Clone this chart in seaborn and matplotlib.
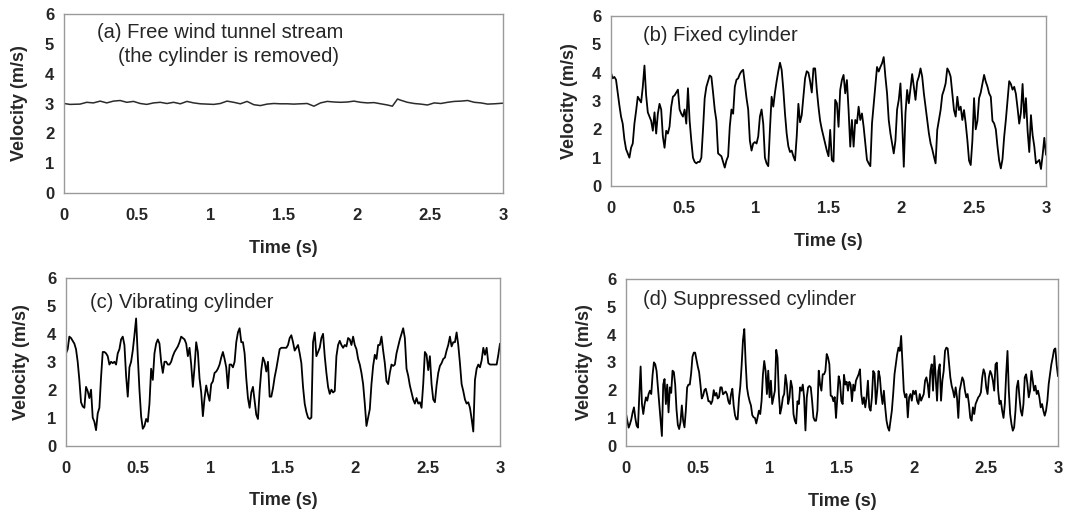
import numpy as np
import pandas as pd
import matplotlib
matplotlib.use("Agg")
import matplotlib.pyplot as plt
import seaborn as sns

# ------------------------------------------------------------------
# Velocity records (m/s)
# ------------------------------------------------------------------
TIME_A = [0.0, 0.041, 0.110, 0.155, 0.201, 0.247, 0.292, 0.338, 0.384, 0.429,
          0.475, 0.521, 0.566, 0.612, 0.658, 0.703, 0.749, 0.795, 0.840, 0.886,
          0.932, 0.977, 1.023, 1.068, 1.114, 1.160, 1.205, 1.251, 1.297, 1.342,
          1.388, 1.434, 1.479, 1.525, 1.571, 1.616, 1.662, 1.708, 1.753, 1.799,
          1.845, 1.890, 1.936, 1.982, 2.027, 2.073, 2.119, 2.164, 2.210, 2.244,
          2.279, 2.301, 2.347, 2.393, 2.438, 2.484, 2.530, 2.575, 2.621, 2.667,
          2.712, 2.758, 2.804, 2.849, 2.895, 2.941, 3.0]
VEL_A = [3.00, 2.97, 2.98, 3.04, 3.02, 3.08, 3.02, 3.08, 3.10, 3.04,
         3.07, 3.00, 2.97, 3.02, 3.04, 3.00, 3.04, 2.99, 3.07, 3.02,
         2.99, 2.98, 2.97, 3.00, 3.08, 3.04, 2.99, 3.07, 2.96, 2.93,
         2.98, 3.00, 2.99, 2.99, 2.98, 2.99, 3.00, 2.91, 3.02, 3.07,
         3.05, 3.04, 3.05, 3.08, 3.04, 3.02, 3.03, 2.99, 2.95, 2.91,
         3.15, 3.11, 3.04, 3.00, 2.98, 2.95, 3.02, 3.00, 3.04, 3.07,
         3.08, 3.10, 3.04, 3.02, 2.98, 2.99, 3.01]

# (b) fixed cylinder, evenly sampled over 0-3 s
VEL_B = [4.0, 3.8, 3.85, 3.75, 3.3, 2.85, 2.45, 2.2, 1.65, 1.3,
         1.15, 1.0, 1.35, 1.5, 2.2, 2.65, 3.15, 3.05, 2.95, 3.5,
         4.25, 3.2, 2.6, 2.45, 2.3, 1.95, 2.6, 1.85, 2.55, 2.9,
         2.7, 1.75, 1.35, 1.95, 1.85, 2.1, 2.8, 3.15, 3.2, 3.3,
         3.4, 2.7, 2.55, 2.45, 2.7, 2.2, 3.45, 2.3, 1.6, 1.0,
         0.85, 0.8, 0.85, 0.85, 1.0, 2.0, 3.1, 3.5, 3.7, 3.9,
         3.85, 3.3, 2.7, 2.3, 1.15, 1.1, 1.05, 0.85, 0.65, 0.9,
         1.05, 2.1, 2.7, 2.55, 3.5, 3.75, 3.8, 3.95, 4.05, 4.1,
         3.6, 3.1, 2.7, 1.6, 1.25, 1.5, 1.55, 1.5, 1.75, 2.45,
         2.7, 2.2, 1.0, 0.8, 0.7, 2.0, 3.15, 2.8, 3.3, 3.7,
         4.05, 4.35, 4.1, 3.4, 2.55, 1.85, 1.4, 1.2, 1.25, 1.05,
         0.9, 1.75, 2.9, 2.25, 2.5, 3.15, 3.8, 4.05, 4.0, 3.7,
         3.3, 4.15, 4.15, 3.4, 2.8, 2.3, 2.0, 1.75, 1.5, 1.25,
         1.05,
         1.98, 0.92, 0.86, 3.04, 2.92, 2.09, 3.39, 3.74, 3.92, 3.27,
         3.74, 2.68, 1.39, 2.33, 1.39, 2.33, 2.21, 2.8, 2.33, 2.56,
         2.09, 1.51, 0.92, 0.8, 0.7, 2.21, 2.86, 3.51, 4.2, 4.04,
         4.2, 4.33, 4.55, 3.86, 3.27, 2.33, 1.86, 1.5, 1.15, 1.6,
         2.7, 3.04, 3.62, 2.33, 0.68, 2.56, 3.39, 2.92, 3.45, 3.95,
         3.51, 3.04, 3.68, 3.86, 4.15, 3.86, 3.27, 2.8, 2.33, 1.86,
         1.51, 1.3, 1.04, 0.8, 1.98, 2.33, 2.68, 3.21, 3.39, 3.62,
         4.15, 4.04, 3.86, 3.27, 2.68, 2.45, 3.15, 2.68, 2.8, 2.33,
         2.68, 2.21, 1.62, 0.9, 0.74, 1.6, 3.1, 2.0, 2.3, 3.1,
         3.3, 3.6, 3.92, 3.68, 3.51, 3.27, 3.15, 2.3, 2.21, 2.0,
         1.4, 0.9, 0.62, 0.95, 1.74, 2.33, 3.0, 3.7, 3.6, 3.4,
         3.5, 3.25, 2.75, 2.2, 2.6, 3.6, 2.4, 3.1, 1.95, 1.2,
         2.5, 1.8, 1.4, 0.8, 0.86, 0.92, 0.6, 1.1, 1.7, 1.1]

# (c) vibrating cylinder, evenly sampled over 0-3 s
VEL_C = [3.3, 3.45, 3.9, 3.85, 3.75, 3.65, 3.45, 3.0, 2.35, 1.55,
         1.4, 1.35, 2.1, 1.95, 1.7, 2.0, 1.0, 0.85, 0.55, 1.15,
         1.35, 2.45, 3.35, 3.35, 3.3, 3.2, 2.9, 3.0, 2.95, 3.0,
         2.9, 3.3, 3.45, 3.8, 3.9, 3.6, 2.5, 1.75, 2.8, 3.0,
         3.4, 3.95, 4.55, 3.2, 2.0, 1.05, 0.6, 0.7, 0.95, 0.85,
         1.5, 2.75, 2.35, 3.3, 3.65, 3.8, 3.65, 3.0, 2.6, 3.0,
         3.0, 2.9, 2.9, 3.0, 3.2, 3.35, 3.45, 3.55, 3.7, 3.9,
         3.85, 3.8, 3.65, 3.2, 3.5, 2.9, 2.1, 2.8, 3.7, 3.35,
         2.4, 1.9, 1.05, 1.7, 2.15, 1.85, 1.6, 2.2, 2.3, 2.6,
         2.65, 2.75, 2.9, 3.15, 3.35, 3.1, 2.8, 2.05, 2.9, 2.9,
         2.8, 3.0, 3.7, 4.05, 4.2, 3.7, 3.7, 3.3, 2.4, 1.7,
         1.35, 1.9, 2.1, 1.6, 1.1, 0.95, 1.95, 2.7, 3.15, 3.0,
         2.65,
         3.0, 1.75, 1.75, 2.05, 2.45, 2.75, 3.1, 3.45, 3.5, 3.5,
         3.5, 3.5, 3.6, 3.85, 3.95, 3.7, 3.4, 3.5, 3.6, 3.3,
         2.95, 2.1, 1.5, 1.2, 1.0, 0.95, 1.0, 3.7, 4.05, 3.2,
         3.35, 3.5, 3.85, 4.0, 3.2, 2.6, 2.1, 1.85, 2.0, 1.9,
         1.95, 3.2, 3.6, 3.75, 3.6, 3.5, 3.6, 3.55, 3.85, 3.8,
         3.6, 3.9, 3.6, 3.45, 3.1, 2.9, 2.6, 2.2, 1.5, 0.7,
         1.0, 1.3, 2.2, 2.85, 3.25, 3.1, 3.6, 3.6, 3.9, 3.4,
         2.95, 2.3, 2.2, 2.6, 2.9, 2.85, 2.9, 3.3, 3.55, 3.8,
         4.0, 4.2, 3.85, 2.75, 2.5, 2.15, 1.9, 1.65, 1.5, 1.7,
         1.5, 1.55, 1.35, 2.2, 3.35, 3.25, 2.7, 3.2, 2.2, 1.65,
         1.55, 2.15, 2.6, 2.85, 2.95, 3.1, 3.15, 3.4, 3.6, 3.9,
         3.55, 3.7, 3.7, 4.05, 3.6, 2.95, 2.2, 1.95, 1.65, 1.5,
         1.55, 1.35, 0.95, 0.5, 2.35, 2.75, 2.9, 2.8, 3.05, 3.5,
         3.25, 3.5, 2.95, 2.9, 2.9, 2.9, 2.9, 2.9, 3.25, 3.65]

# (d) suppressed cylinder, evenly sampled over 0-3 s
VEL_D = [1.15, 0.9, 0.65, 0.78, 0.95, 1.2, 1.38, 1.0, 0.72, 0.65,
         1.8, 2.85, 1.5, 1.14, 1.5, 1.74, 1.62, 1.86, 1.98, 1.86,
         2.55, 3.0, 2.93, 2.69, 2.1, 1.5, 0.9, 0.35, 2.2, 2.4,
         1.5, 2.2, 1.2, 2.1, 1.9, 2.7, 2.65, 2.2, 1.3, 0.75,
         0.6, 0.85, 1.45, 0.9, 0.66, 1.26, 2.1, 2.2, 2.2, 2.6,
         3.2, 3.35, 3.35, 3.1, 2.85, 2.65, 2.2, 1.7, 1.8, 2.0,
         2.05, 1.85, 1.6, 1.6, 1.5, 1.62, 2.0, 1.8, 1.9, 1.7,
         1.75, 2.1, 2.1, 1.85, 1.9, 1.95, 1.85, 1.6, 1.5, 1.85,
         2.05, 1.45, 1.1, 0.95, 0.95, 1.7, 2.15, 2.9, 3.8, 4.2,
         3.0, 2.1, 1.8, 1.6, 1.45, 1.1, 1.02, 1.0, 0.8, 1.02,
         1.26, 1.14, 1.62, 2.55, 3.05, 2.7, 1.86, 2.7, 1.74, 2.34,
         1.5, 1.74, 1.98, 3.45, 3.17, 1.86, 1.15, 1.38, 1.74, 1.86,
         2.55, 2.2, 1.5, 1.74, 2.34, 2.1, 1.14, 0.9, 0.8, 1.6,
         1.5, 2.1, 1.98, 2.2, 1.74, 0.55, 1.74, 2.1, 2.15, 2.1,
         1.62, 1.02, 0.9, 0.9, 1.26, 2.7, 2.2, 1.98, 2.57, 2.57,
         2.69, 3.3, 3.17, 2.93,
         1.8, 1.78, 1.6, 1.75, 1.0, 1.74, 2.5, 2.3, 1.6, 1.5,
         2.55, 2.2, 2.3, 1.98, 2.3, 2.2, 1.6, 2.2, 1.98, 2.34,
         2.46, 2.57, 2.75, 1.86, 1.5, 1.74, 1.38, 1.74, 2.34, 1.38,
         1.26, 1.74, 2.69, 2.6, 1.5, 1.98, 2.69, 2.46, 1.86, 1.5,
         1.98, 1.38, 0.9, 0.66, 0.54, 0.9, 1.26, 1.86, 2.57, 2.93,
         3.29, 3.53, 3.41, 3.95, 2.93, 1.98, 1.74, 1.86, 1.02, 1.74,
         1.86, 1.62, 1.98, 1.86, 1.98, 1.62, 1.5, 1.86, 1.62, 1.74,
         1.86, 2.34, 2.46, 2.22, 1.74, 2.69, 2.93, 1.98, 3.23, 2.46,
         1.62, 2.69, 2.93, 1.62, 2.34, 2.69, 3.41, 3.53, 3.5, 3.0,
         2.46, 2.16, 1.98, 1.74, 2.1, 1.74, 1.0, 1.98, 2.22, 2.46,
         2.34, 1.98, 1.74, 1.86, 1.5, 1.0, 0.9, 1.38, 1.14, 1.5,
         1.62, 1.74, 1.8, 1.92, 2.46, 2.75, 2.6, 2.1, 1.86, 2.46,
         2.69, 2.57, 2.34, 1.98, 2.93, 2.99, 1.98, 1.5, 1.62, 1.26,
         1.0, 1.5, 2.57, 3.41, 1.98, 1.14, 0.78, 0.54, 0.66, 1.26,
         2.1, 2.34, 1.74, 1.26, 1.08, 1.5, 2.46, 2.57, 2.22, 1.74,
         1.98, 2.69, 2.34, 1.98, 2.16, 1.86, 1.98, 1.74, 1.38, 1.5,
         1.26, 1.08, 1.26, 1.62, 2.22, 2.57, 2.93, 3.17, 3.45, 3.5,
         2.9, 2.5]

LABELS_A = ["(a) Free wind tunnel stream", "(the cylinder is removed)"]
LABEL_B = "(b) Fixed cylinder"
LABEL_C = "(c) Vibrating cylinder"
LABEL_D = "(d) Suppressed cylinder"

X_TICKS = [0, 0.5, 1, 1.5, 2, 2.5, 3]
X_TICK_LABELS = ["0", "0.5", "1", "1.5", "2", "2.5", "3"]
Y_TICKS = [0, 1, 2, 3, 4, 5, 6]


def make_frame(times, values):
    return pd.DataFrame({"Time": times, "Velocity": values})


df_a = make_frame(TIME_A, VEL_A)
df_b = make_frame(np.linspace(0, 3, len(VEL_B)), VEL_B)
df_c = make_frame(np.linspace(0, 3, len(VEL_C)), VEL_C)
df_d = make_frame(np.linspace(0, 3, len(VEL_D)), VEL_D)

sns.set_style("white")
plt.rcParams["font.family"] = ["Liberation Sans", "DejaVu Sans"]

fig = plt.figure(figsize=(10.65, 5.16), dpi=100)

# axes placed to follow the original layout (pixel boxes -> figure fractions)
W, H = 1065.0, 516.0
boxes = {
    "a": (64, 14, 503, 193),
    "b": (611, 16, 1046, 186),
    "c": (66, 278, 500, 445.5),
    "d": (626, 279, 1058, 445.7),
}
axes = {}
for key, (x0, y0, x1, y1) in boxes.items():
    axes[key] = fig.add_axes([x0 / W, 1 - y1 / H, (x1 - x0) / W, (y1 - y0) / H])

panels = [
    ("a", df_a, "#2b2b2b", 1.1, 12),
    ("b", df_b, "black", 1.3, 10),
    ("c", df_c, "black", 1.3, 12),
    ("d", df_d, "black", 1.3, 10),
]

for key, df, col, lw, ypad in panels:
    ax = axes[key]
    sns.lineplot(data=df, x="Time", y="Velocity", color=col, linewidth=lw,
                 ax=ax, estimator=None, sort=False)
    ax.set_xlim(0, 3)
    ax.set_ylim(0, 6)
    ax.set_xticks(X_TICKS)
    ax.set_xticklabels(X_TICK_LABELS)
    ax.set_yticks(Y_TICKS)
    ax.tick_params(direction="in", length=3, width=0.8, color="#9a9a9a",
                   labelsize=12)
    ax.tick_params(axis="x", pad=11)
    ax.tick_params(axis="y", pad=7)
    for lab in ax.get_xticklabels() + ax.get_yticklabels():
        lab.set_fontweight("bold")
    for sp in ax.spines.values():
        sp.set_color("#9a9a9a")
        sp.set_linewidth(1.0)
    ax.set_xlabel("Time (s)", fontsize=13, fontweight="bold", labelpad=12)
    ax.set_ylabel("Velocity (m/s)", fontsize=13, fontweight="bold", labelpad=ypad)
    ax.grid(False)

axes["a"].text(0.075, 0.894, LABELS_A[0], transform=axes["a"].transAxes,
               fontsize=14.5, va="center", ha="left")
axes["a"].text(0.123, 0.76, LABELS_A[1], transform=axes["a"].transAxes,
               fontsize=14.5, va="center", ha="left")
axes["b"].text(0.074, 0.888, LABEL_B, transform=axes["b"].transAxes,
               fontsize=14.5, va="center", ha="left")
axes["c"].text(0.055, 0.851, LABEL_C, transform=axes["c"].transAxes,
               fontsize=14.5, va="center", ha="left")
axes["d"].text(0.039, 0.876, LABEL_D, transform=axes["d"].transAxes,
               fontsize=14.5, va="center", ha="left")

fig.savefig("out.png", dpi=100)
